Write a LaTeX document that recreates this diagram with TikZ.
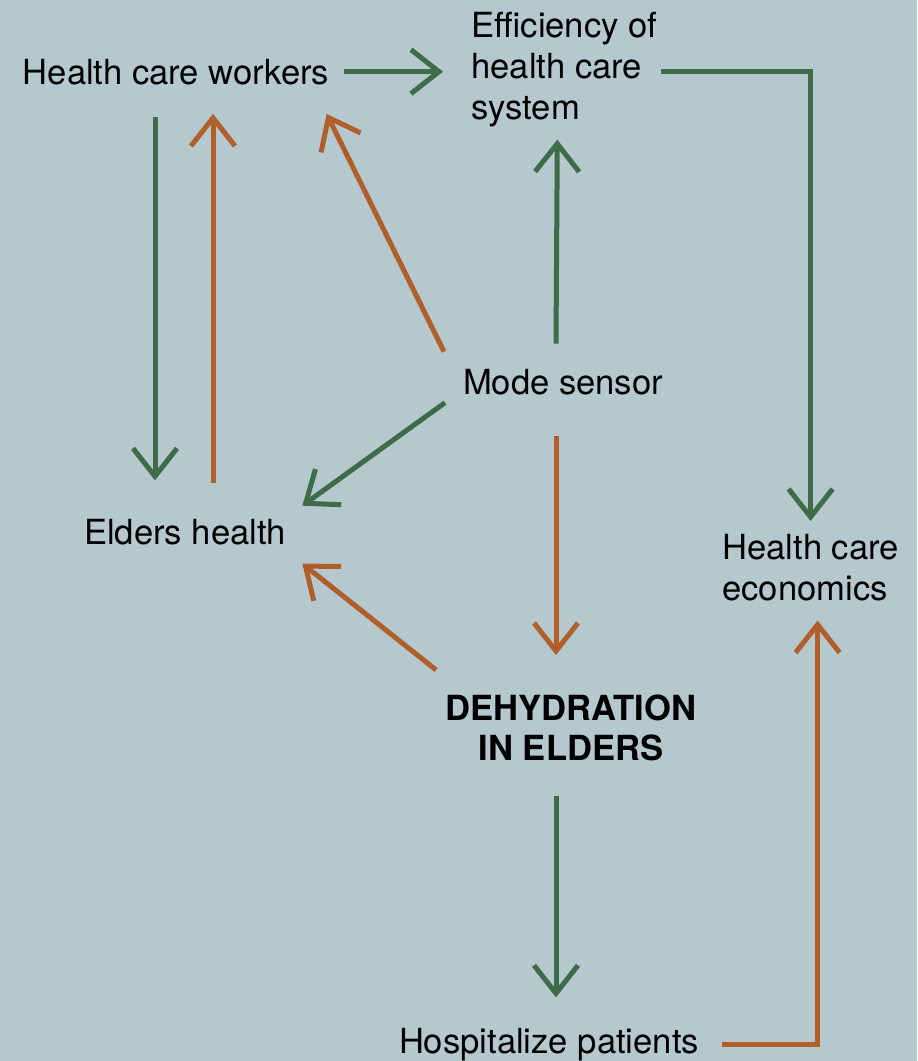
\documentclass[tikz,border=0pt]{standalone}
\usepackage{fontspec}
\setmainfont{TeX Gyre Heros}
\usetikzlibrary{arrows.meta,calc,positioning}
\definecolor{bgblue}{RGB}{180,200,206}
\definecolor{flowgreen}{RGB}{62,107,72}
\definecolor{floworange}{RGB}{176,94,42}

\begin{document}
\begin{tikzpicture}
[
  x=0.5pt, y=-0.5pt,
  txt/.style={inner sep=0pt, font=\fontsize{17.3}{20.5}\selectfont},
  flow/.style={line width=2.5pt, -{Straight Barb[length=14pt,width=22pt]}},
  greenflow/.style={flow, draw=flowgreen},
  orangeflow/.style={flow, draw=floworange}
]
 \fill[bgblue] (0,0) rectangle (917,1061);

 \node[txt,anchor=base] (hcw) at (176,84) {Health care workers};
 \node[txt,align=left,anchor=north west] (eff) at (471,12) {Efficiency of\\health care\\system};
 \node[txt,anchor=base] (mode) at (563,394) {Mode sensor};
 \node[txt,anchor=base] (elders) at (185,544) {Elders health};
 \node[txt,align=left,anchor=north west] (econ) at (722,534) {Health care\\economics};
 \node[txt,align=center,anchor=north,font=\fontsize{17.3}{20}\selectfont\bfseries] (dehyd) at (571,694) {DEHYDRATION\\IN ELDERS};
 \node[txt,anchor=base] (hosp) at (549,1053) {Hospitalize patients};

 % top row
 \draw[greenflow] ($(hcw.east)+(14,0)$) -- ($(hcw.east -| eff.west)+(-28,0)$);
 \draw[greenflow] ($(hcw.east -| eff.east)+(3,0)$) -| ($(econ.north)+(0,-13)$);

 % workers <-> elders
 \draw[greenflow] ($(hcw.south)+(-21,32)$) -- ($(elders.north)+(-30,-38)$);
 \draw[orangeflow] ($(elders.north)+(28,-35)$) -- ($(hcw.south)+(37,29)$);

 % mode sensor
 \draw[orangeflow] ($(mode)+(-119,-30)$) -- ($(hcw.south east)+(-3,29)$);
 \draw[greenflow] ($(mode)+(-7,-38)$) -- ($(eff.south)+(-7,12)$);
 \draw[greenflow] ($(mode)+(-118,21)$) -- ($(elders.east)+(16,-26)$);
 \draw[orangeflow] ($(mode)+(-7,54)$) -- ($(dehyd.north)+(-15,-39)$);

 % dehydration
 \draw[orangeflow] ($(dehyd.north west)+(-9,-24)$) -- ($(elders.east)+(16,32)$);
 \draw[greenflow] ($(dehyd.south)+(-15,35)$) -- ($(hosp.north)+(7,-30)$);
 \draw[orangeflow] ($(hosp.east)+(23,0)$) -| ($(econ.south)+(7,19)$);
\end{tikzpicture}
\end{document}
